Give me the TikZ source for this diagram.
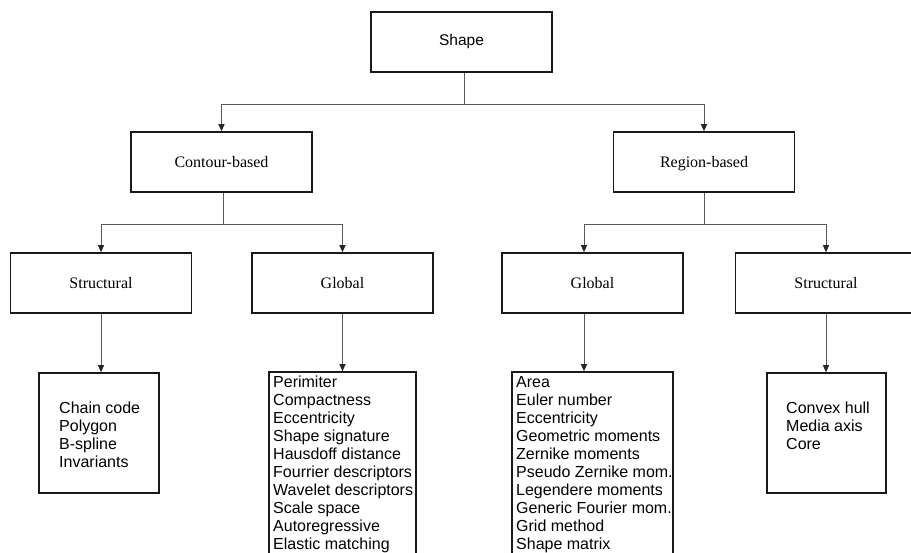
\documentclass[tikz,border=0pt]{standalone}
\usepackage{fontspec}
\setmainfont{Liberation Serif}
\setsansfont{Liberation Sans}
\usetikzlibrary{arrows.meta}
\begin{document}
\begin{tikzpicture}[x=1pt,y=-1pt,
  box/.style={draw=black!90, line width=1.6pt, rectangle, inner sep=0pt, minimum width=181pt, minimum height=60pt, text height=11pt, text depth=0pt},
  serifbox/.style={box, font=\fontsize{16}{18}\selectfont},
  sansbox/.style={box, font=\sffamily\fontsize{15.5}{18}\selectfont, text depth=3.3pt},
  leaf/.style={draw=black!90, line width=1.6pt, rectangle, inner sep=0pt},
  listtext/.style={anchor=north west, inner sep=0pt, align=left, font=\sffamily\fontsize{16}{18}\selectfont},
  conn/.style={draw=black!65, line width=1pt},
  arr/.style={conn, -{Triangle[length=7pt,width=6pt,fill=black!85,color=black!85]}}]
\useasboundingbox[fill=white] (0,0) rectangle (911,553);

% level 1
\node[sansbox] (shape) at (461.5,42) {Shape};
% level 2
\node[serifbox] (contour) at (221.5,162) {Contour-based};
\node[serifbox] (region) at (704,162) {Region-based};
% level 3
\node[serifbox] (strL) at (101,283) {Structural};
\node[serifbox] (glL) at (342.5,283) {Global};
\node[serifbox] (glR) at (592.5,283) {Global};
\node[serifbox] (strR) at (826,283) {Structural};
% level 4 boxes
\node[leaf, minimum width=120pt, minimum height=120pt] (chainbox) at (99,433) {};
\node[leaf, minimum width=147pt, minimum height=198pt] (perimbox) at (342.5,471) {};
\node[leaf, minimum width=161pt, minimum height=198pt] (areabox) at (592.5,471) {};
\node[leaf, minimum width=119pt, minimum height=120pt] (convexbox) at (826.5,433) {};
% level 4 texts
\node[listtext] (chaintext) at (59,401.5) {Chain code\\Polygon\\B-spline\\Invariants};
\node[listtext] (perimtext) at (273,376) {Perimiter\\Compactness\\Eccentricity\\Shape signature\\Hausdoff distance\\Fourrier descriptors\\Wavelet descriptors\\Scale space\\Autoregressive\\Elastic matching};
\node[listtext] (areatext) at (516,376) {Area\\Euler number\\Eccentricity\\Geometric moments\\Zernike moments\\Pseudo Zernike mom.\\Legendere moments\\Generic Fourier mom.\\Grid method\\Shape matrix};
\node[listtext] (convextext) at (786,401.5) {Convex hull\\Media axis\\Core};

% connectors
\coordinate (j0) at (464,105);
\coordinate (j1) at (223,225);
\coordinate (j2) at (704,225);
\coordinate (gx) at (584,0);
\draw[conn] (shape.south -| j0) -- (j0);
\draw[arr] (j0) -| (contour.north);
\draw[arr] (j0) -| (region.north);
\draw[conn] (contour.south -| j1) -- (j1);
\draw[arr] (j1) -| (strL.north);
\draw[arr] (j1) -| (glL.north);
\draw[conn] (region.south -| j2) -- (j2);
\draw[arr] (j2) -| (glR.north -| gx);
\draw[arr] (j2) -| (strR.north);
\draw[arr] (strL.south) -- (strL.south |- chainbox.north);
\draw[arr] (glL.south) -- (glL.south |- perimbox.north);
\draw[arr] (glR.south -| gx) -- (gx |- areabox.north);
\draw[arr] (strR.south) -- (strR.south |- convexbox.north);
\end{tikzpicture}
\end{document}
